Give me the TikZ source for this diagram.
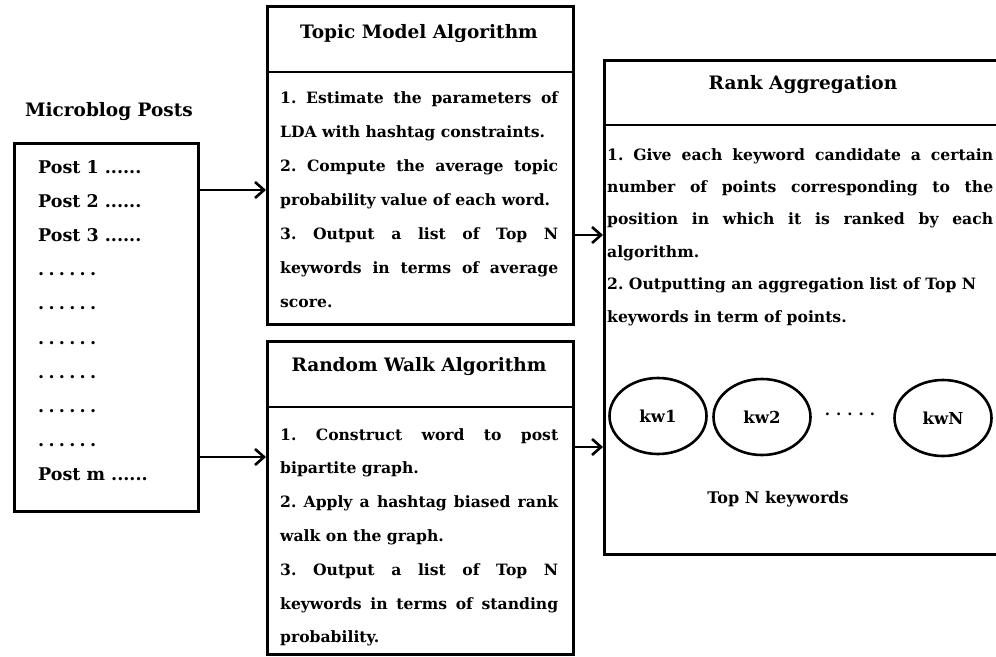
\documentclass[tikz,border=0pt]{standalone}
\usepackage{fontspec}
\setmainfont{DejaVu Serif}
\usetikzlibrary{arrows.meta,shapes.geometric}
\frenchspacing
\newcommand{\J}[2][278pt]{\hbox to #1{\spaceskip=.3em plus 1fil\relax #2}}
\newcommand{\pdots}{......}
\newcommand{\sdots}{.\kern4.3pt.\kern4.3pt.\kern4.3pt.\kern4.3pt.\kern4.3pt.}
\newcommand{\kdots}{.\kern6pt.\kern6pt.\kern6pt.\kern6pt.}
\begin{document}
\begin{tikzpicture}[x=1pt,y=-1pt,
  frame/.style={draw, line width=2.8pt},
  conn/.style={line width=2.8pt, -{Straight Barb[length=9pt,width=16pt,line width=2.6pt]}},
  titletext/.style={font=\bfseries\fontsize{18.5}{22}\selectfont, inner sep=0pt, anchor=base},
  bodyline/.style={font=\bfseries\fontsize{15.6}{18}\selectfont, inner sep=0pt, anchor=base west},
  postline/.style={font=\bfseries\fontsize{17.5}{20}\selectfont, inner sep=0pt, anchor=base west},
  kw/.style={draw, ellipse, line width=2.6pt, minimum width=97pt, minimum height=76pt, inner sep=0pt, font=\bfseries\fontsize{16.5}{19}\selectfont},
]
\useasboundingbox (0,0) rectangle (996,656);
% ---------- Microblog posts ----------
\node[titletext] (mbtitle) at (109,116) {Microblog Posts};
\node[frame, minimum width=184pt, minimum height=368pt, anchor=north west, inner sep=0pt] (posts) at (13,142) {};
\foreach \t [count=\i from 0] in {{Post 1 \pdots}, {Post 2 \pdots}, {Post 3 \pdots}, {\sdots}, {\sdots}, {\sdots}, {\sdots}, {\sdots}, {\sdots}, {Post m \pdots}}
  \node[postline] (p\i) at (38,{173+34.2*\i}) {\t};
% ---------- Topic model ----------
\node[frame, minimum width=306pt, minimum height=318pt, anchor=north west, inner sep=0pt] (topic) at (266,5) {};
\coordinate (topicdl) at (266,72);
\coordinate (topicdr) at (572,72);
\draw[line width=2.8pt] (topicdl) -- (topicdr);
\node[titletext] (topictitle) at (419,38) {Topic Model Algorithm};
\foreach \t [count=\i from 0] in {{\J{1. Estimate the parameters of}}, {LDA with hashtag constraints.}, {\J{2. Compute the average topic}}, {probability value of each word.}, {\J{3. Output a list of Top N}}, {\J{keywords in terms of average}}, {score.}}
  \node[bodyline] (tm\i) at (280,{103+34*\i}) {\t};
% ---------- Random walk ----------
\node[frame, minimum width=306pt, minimum height=313pt, anchor=north west, inner sep=0pt] (walk) at (266,340) {};
\coordinate (walkdl) at (266,407);
\coordinate (walkdr) at (572,407);
\draw[line width=2.8pt] (walkdl) -- (walkdr);
\node[titletext] (walktitle) at (419,371) {Random Walk Algorithm};
\foreach \t [count=\i from 0] in {{\J{1. Construct word to post}}, {bipartite graph.}, {\J{2. Apply a hashtag biased rank}}, {walk on the graph.}, {\J{3. Output a list of Top N}}, {\J{keywords in terms of standing}}, {probability.}}
  \node[bodyline] (rw\i) at (280,{440+33.8*\i}) {\t};
% ---------- Rank aggregation ----------
\node[frame, minimum width=400pt, minimum height=494pt, anchor=north west, inner sep=0pt] (rank) at (603,59) {};
\coordinate (rankdl) at (603,125);
\coordinate (rankdr) at (1003,125);
\draw[line width=2.8pt] (rankdl) -- (rankdr);
\node[titletext] (ranktitle) at (803,89) {Rank Aggregation};
\foreach \t [count=\i from 0] in {{\J[386pt]{1. Give each keyword candidate a certain}}, {\J[386pt]{number of points corresponding to the}}, {\J[386pt]{position in which it is ranked by each}}, {algorithm.}, {2. Outputting an aggregation list of Top N}, {keywords in term of points.}}
  \node[bodyline] (ra\i) at (607,{160+32.4*\i}) {\t};
\node[kw] (kw1) at (658,416) {kw1};
\node[kw] (kw2) at (762,417) {kw2};
\node[kw] (kwN) at (943,418) {kwN};
\node[font=\bfseries\fontsize{15}{18}\selectfont, inner sep=0pt] (kwdots) at (850,414) {\kdots};
\node[font=\bfseries\fontsize{16}{19}\selectfont, inner sep=0pt] (topn) at (778,499) {Top N keywords};
% ---------- connectors ----------
\draw[conn] (posts.east |- 0,190) -- (topic.west |- 0,190);
\draw[conn] (posts.east |- 0,457) -- (walk.west |- 0,457);
\draw[conn] (topic.east |- 0,235) -- (rank.west |- 0,235);
\draw[conn] (walk.east |- 0,447) -- (rank.west |- 0,447);
\end{tikzpicture}
\end{document}
